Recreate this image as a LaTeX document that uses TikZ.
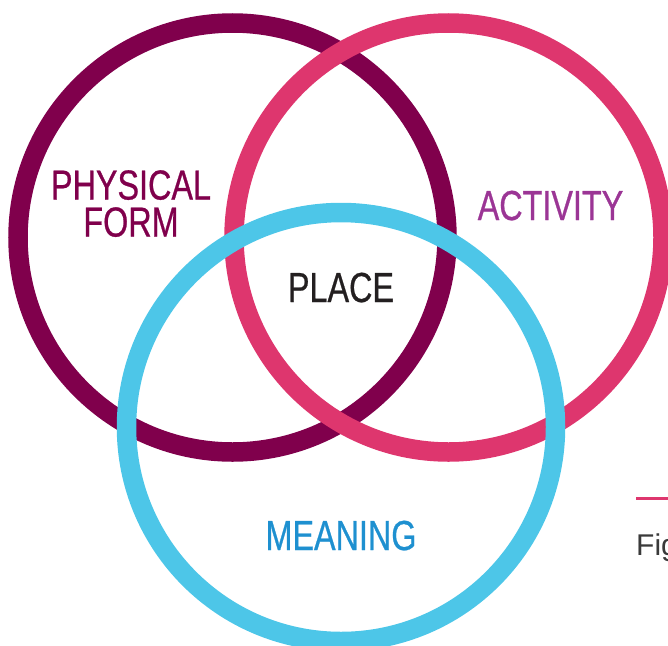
\documentclass[tikz,border=0pt]{standalone}
\usepackage{fontspec}
\setmainfont{Liberation Sans}
\newfontfamily\condfont[FakeStretch=0.77,FakeBold=0.6]{Liberation Sans}
\definecolor{cmaroon}{HTML}{80004C}
\definecolor{cpink}{HTML}{DE366E}
\definecolor{cblue}{HTML}{4DC6E8}
\definecolor{tpurple}{HTML}{9B3595}
\definecolor{tblue}{HTML}{1E90D0}
\definecolor{tdark}{HTML}{231F20}
\definecolor{tgrey}{HTML}{3A3A3A}
\begin{document}
\begin{tikzpicture}[x=1pt,y=-1pt,
  ring/.style={circle, line width=19.5pt, minimum size=429pt, inner sep=0pt},
  lab/.style={font=\condfont\fontsize{42}{37}\selectfont, inner sep=0pt, anchor=base}]
\useasboundingbox (0,0) rectangle (668,645);
\clip (0,0) rectangle (668,645);
\node (form) [ring, draw=cmaroon] at (232.5,237.5) {};
\node (act) [ring, draw=cpink] at (448.5,237.5) {};
\node (mean) [ring, draw=cblue] at (341,427) {};
\node (l1) [lab, text=cmaroon, align=center, anchor=north] at (131,170) {PHYSICAL\\FORM};
\node (l3) [lab, text=tpurple] at (550.5,220) {ACTIVITY};
\node (l4) [lab, text=tdark] at (341,302) {PLACE};
\node (l5) [lab, text=tblue] at (341,550) {MEANING};
\coordinate (r1) at (636,498);
\coordinate (r2) at (668,498);
\draw[cpink, line width=3pt] (r1) -- (r2);
\node (fig) [font=\fontsize{30}{36}\selectfont, text=tgrey, inner sep=0pt, anchor=base west] at (636,555) {Fig};
\end{tikzpicture}
\end{document}
